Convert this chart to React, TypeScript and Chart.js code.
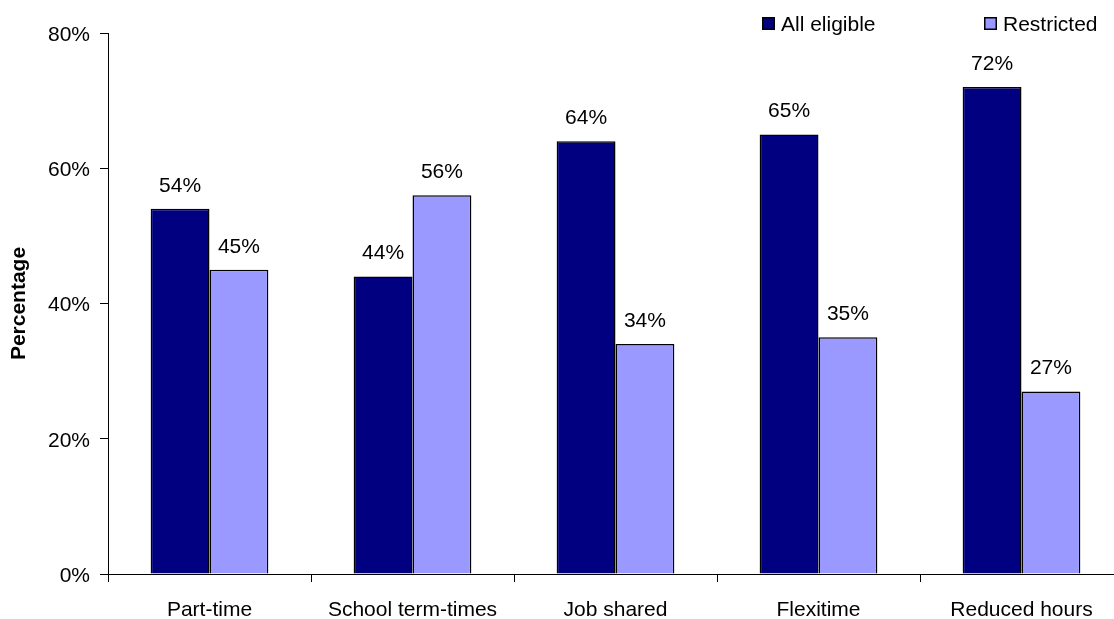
import React, { useEffect, useRef } from "react";
import { Chart, registerables } from "chart.js";

Chart.register(...registerables);

const categories = ["Part-time", "School term-times", "Job shared", "Flexitime", "Reduced hours"];
const allEligible = [54, 44, 64, 65, 72];
const restricted = [45, 56, 34, 35, 27];
const seriesNames = ["All eligible", "Restricted"];
const seriesColors = ["#000080", "#9999FF"];
const yTicks = [0, 20, 40, 60, 80];

const FONT = "'Liberation Sans', Arial, sans-serif";

// Writes the percentage above each bar
const valueLabels = {
  id: "valueLabels",
  afterDatasetsDraw(chart: any) {
    const ctx = chart.ctx;
    ctx.save();
    ctx.font = `21px ${FONT}`;
    ctx.fillStyle = "#000";
    ctx.textAlign = "center";
    ctx.textBaseline = "alphabetic";
    chart.data.datasets.forEach((ds: any, i: number) => {
      const meta = chart.getDatasetMeta(i);
      meta.data.forEach((bar: any, j: number) => {
        ctx.fillText(`${ds.data[j]}%`, bar.x, bar.y - 17);
      });
    });
    ctx.restore();
  },
};

// Legend with bordered square swatches, placed top right
const swatchLegend = {
  id: "swatchLegend",
  afterDraw(chart: any) {
    const ctx = chart.ctx;
    const entryX = [762, 984];
    ctx.save();
    ctx.font = `21px ${FONT}`;
    ctx.textBaseline = "alphabetic";
    ctx.textAlign = "left";
    chart.data.datasets.forEach((ds: any, i: number) => {
      const x = entryX[i];
      ctx.fillStyle = ds.backgroundColor;
      ctx.fillRect(x, 17, 13, 13);
      ctx.strokeStyle = "#000";
      ctx.lineWidth = 1.5;
      ctx.strokeRect(x + 0.75, 17.75, 11.5, 11.5);
      ctx.fillStyle = "#000";
      ctx.fillText(ds.label, x + 19, 31);
    });
    ctx.restore();
  },
};

export default function App() {
  const canvasRef = useRef<HTMLCanvasElement | null>(null);

  useEffect(() => {
    if (!canvasRef.current) return;
    const chart = new Chart(canvasRef.current, {
      type: "bar",
      data: {
        labels: categories,
        datasets: [
          {
            label: seriesNames[0],
            data: allEligible,
            backgroundColor: seriesColors[0],
            borderColor: "#000",
            borderWidth: 1.5,
          },
          {
            label: seriesNames[1],
            data: restricted,
            backgroundColor: seriesColors[1],
            borderColor: "#000",
            borderWidth: 1.5,
          },
        ],
      },
      options: {
        responsive: false,
        animation: false,
        layout: { padding: { top: 33, left: 0, right: 0, bottom: 0 } },
        datasets: {
          bar: { barPercentage: 1, categoryPercentage: 0.58 },
        },
        plugins: {
          legend: { display: false },
          tooltip: { enabled: false },
        },
        scales: {
          x: {
            grid: {
              offset: true,
              drawOnChartArea: false,
              drawTicks: true,
              tickLength: 8,
              color: "#000",
            },
            border: { color: "#000", width: 1 },
            ticks: {
              color: "#000",
              font: { family: FONT, size: 21 },
              padding: 16,
              maxRotation: 0,
              autoSkip: false,
            },
            afterFit(scale: any) {
              scale.height = 45;
            },
          },
          y: {
            min: 0,
            max: 80,
            afterBuildTicks(scale: any) {
              scale.ticks = yTicks.map((v) => ({ value: v }));
            },
            grid: {
              drawOnChartArea: false,
              drawTicks: true,
              tickLength: 8,
              color: "#000",
            },
            border: { color: "#000", width: 1 },
            ticks: {
              color: "#000",
              font: { family: FONT, size: 21 },
              padding: 10,
              labelOffset: 2,
              callback: (v: any) => `${v}%`,
            },
            title: {
              display: true,
              text: "Percentage",
              color: "#000",
              font: { family: FONT, size: 21, weight: "bold" },
              padding: { top: 7, bottom: 0 },
            },
            afterFit(scale: any) {
              scale.width = 108;
            },
          },
        },
      },
      plugins: [valueLabels, swatchLegend],
    });
    return () => chart.destroy();
  }, []);

  return (
    <div
      style={{
        position: "absolute",
        left: 0,
        top: 0,
        width: 1114,
        height: 619,
        overflow: "hidden",
        background: "#fff",
      }}
    >
      <canvas
        ref={canvasRef}
        width={1123}
        height={619}
        style={{ width: 1123, height: 619, display: "block" }}
      />
    </div>
  );
}
